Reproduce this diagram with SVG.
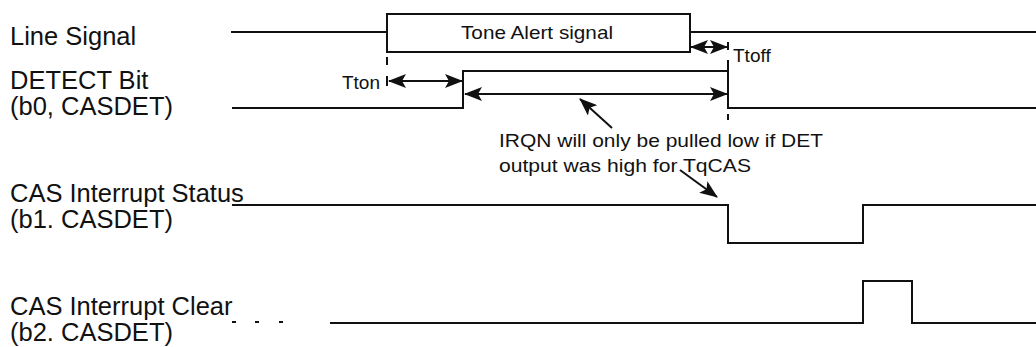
<svg xmlns="http://www.w3.org/2000/svg" width="1036" height="347" viewBox="0 0 1036 347">
<style>
.sig{fill:none;stroke:#111;stroke-width:2}
.tick{stroke:#111;stroke-width:2}
.arr{stroke:#111;stroke-width:2;fill:none}
.lbl{font-family:"Liberation Sans",Arial,sans-serif;font-size:25.5px;fill:#111}
.sm{font-family:"Liberation Sans",Arial,sans-serif;font-size:19px;fill:#111}
</style>
<defs>
<marker id="ah" markerUnits="userSpaceOnUse" markerWidth="18" markerHeight="14" viewBox="0 0 18 14" refX="17" refY="7" orient="auto-start-reverse">
<path d="M0,0 L18,7 L0,14 L4,7 Z" fill="#111"/>
</marker>
</defs>
<rect width="1036" height="347" fill="#fff"/>

<g id="line-signal">
<text class="lbl" x="10" y="45">Line Signal</text>
<path class="sig" d="M231,32 H387 M690,32 H1036"/>
<rect x="387" y="14" width="303" height="38" fill="none" stroke="#111" stroke-width="2"/>
<text class="sm" x="537" y="39" text-anchor="middle" textLength="152" lengthAdjust="spacingAndGlyphs">Tone Alert signal</text>
</g>

<g id="detect-bit">
<text class="lbl" x="10" y="89">DETECT Bit</text>
<text class="lbl" x="10" y="115">(b0, CASDET)</text>
<path class="sig" d="M232,108 H463 V71 H728 V108 H1036"/>
</g>

<g id="cas-status">
<text class="lbl" x="10" y="202">CAS Interrupt Status</text>
<text class="lbl" x="10" y="228">(b1. CASDET)</text>
<path class="sig" d="M232,205 H728 V243 H863 V205 H1036"/>
</g>

<g id="cas-clear">
<text class="lbl" x="10" y="315">CAS Interrupt Clear</text>
<text class="lbl" x="10" y="341">(b2. CASDET)</text>
<path class="sig" d="M330,323 H863 V281 H912 V323 H1036"/>
<path class="tick" d="M232,322 H236 M255,322 H259 M279,322 H283"/>
</g>

<g id="timing-labels">
<text class="sm" x="380" y="89" text-anchor="end">Tton</text>
<text class="sm" x="733" y="62">Ttoff</text>
<text class="sm" x="499" y="147" textLength="324" lengthAdjust="spacingAndGlyphs">IRQN will only be pulled low if DET</text>
<text class="sm" x="499" y="172" textLength="252" lengthAdjust="spacingAndGlyphs">output was high for TqCAS</text>
</g>

<g id="connectors">
<path class="tick" d="M387,57 V65 M387,76 V86 M728,42 V50 M728,60 V71 M728,114 V120"/>
<line class="arr" x1="389" y1="81" x2="462" y2="81" marker-start="url(#ah)" marker-end="url(#ah)"/>
<line class="arr" x1="465" y1="94" x2="727" y2="94" marker-start="url(#ah)" marker-end="url(#ah)"/>
<line class="arr" x1="691" y1="47" x2="727" y2="47" marker-start="url(#ah)" marker-end="url(#ah)"/>
<line class="arr" x1="612" y1="128" x2="580" y2="99" marker-end="url(#ah)"/>
<line class="arr" x1="680" y1="170" x2="717" y2="197" marker-end="url(#ah)"/>
</g>
</svg>
